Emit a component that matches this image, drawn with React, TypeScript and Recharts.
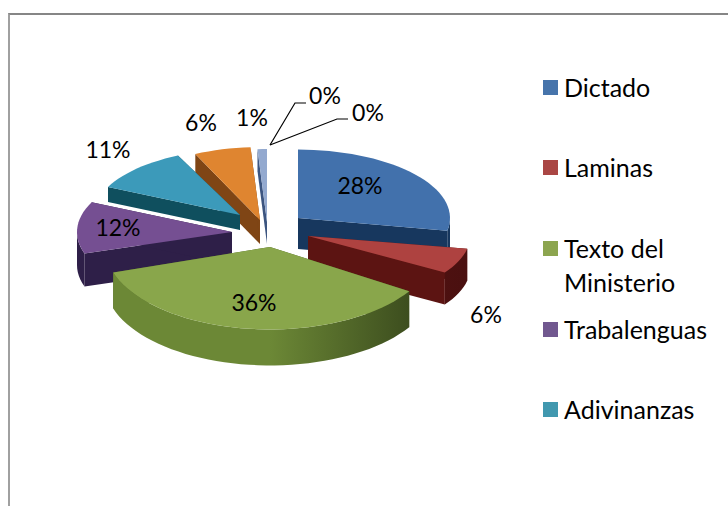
import { PieChart, Pie, Legend } from 'recharts';

const categories = ['Dictado', 'Laminas', 'Texto del Ministerio', 'Trabalenguas', 'Adivinanzas'];
const values = [28, 6, 36, 12, 11, 6, 1, 0, 0];

const legendColors = ['#4674AB', '#AA4644', '#8CA54F', '#71588F', '#4198AF'];
const topColors = ['#4271AC', '#AE4240', '#89A64B', '#754F92', '#3C9ABA', '#DF8530', '#93A9CF', '#BD8C8A', '#AEC189'];
const wallColors = ['#17375E', '#5C1412', '#4A5F26', '#2E1F48', '#0F4F5E', '#7F4515', '#3C5580', '#6B3A38', '#5E7238'];
const arcEdgeColors = ['#17375E', '#5C1412', '#6C8836', '#2E1F48', '#0F4F5E', '#7F4515', '#3C5580', '#6B3A38', '#5E7238'];
const arcFarColors = ['#17375E', '#4A1010', '#34431A', '#2E1F48', '#0F4F5E', '#7F4515', '#3C5580', '#6B3A38', '#5E7238'];

// each slice is pulled out by its own amount, like the exploded points in the original
const explodeX = [46, 56, 18, -20, -12, 8, 15, 0, 0];
const explodeY = [-12, 6, 17, 2, -15, -10, -8, 0, 0];
const radiusScale = [1, 1.066, 1.085, 1.02, 0.96, 1, 1, 1, 1];
const tilt = [0.45, 0.42, 0.5, 0.45, 0.45, 0.48, 0.48, 0.46, 0.46];
const depth = [31, 32, 36, 33, 15, 24, 22, 0, 0];

// back to front
const drawOrder = [6, 5, 4, 0, 3, 1, 2];

const labelX = [360, 486, 254, 118, 108, 201, 252, 325, 368];
const labelY = [185, 314, 302, 227, 149, 122, 117, 95, 112];
const leaderX = [0, 0, 0, 0, 0, 0, 0, 295, 337];
const leaderY = [0, 0, 0, 0, 0, 0, 0, 103, 119];

const legendY = [87, 167, 248, 329, 409];

const FONT = 'Lato, "Open Sans", sans-serif';
const chartData = values.map((value, i) => ({ name: categories[i] ?? '', value }));

function arcPoints(ax: number, ay: number, rx: number, ry: number, from: number, to: number, dy = 0) {
  const steps = Math.max(2, Math.ceil(Math.abs(to - from) / 3));
  const pts: string[] = [];
  for (let s = 0; s <= steps; s++) {
    const t = ((from + ((to - from) * s) / steps) * Math.PI) / 180;
    pts.push(`${(ax + rx * Math.sin(t)).toFixed(1)},${(ay - ry * Math.cos(t) + dy).toFixed(1)}`);
  }
  return pts;
}

function Slice({ cx, cy, outerRadius, startAngle, endAngle, i }: any) {
  if (values[i] === 0) return null;
  const from = 90 - startAngle;
  const to = 90 - endAngle;
  const ax = cx + explodeX[i];
  const ay = cy + explodeY[i];
  const rx = outerRadius * radiusScale[i];
  const ry = rx * tilt[i];
  const d = depth[i];

  const rim = arcPoints(ax, ay, rx, ry, from, to);
  const first = rim[0];
  const last = rim[rim.length - 1];
  const shift = (p: string) => {
    const [x, y] = p.split(',').map(Number);
    return `${x},${y + d}`;
  };
  const apex = `${ax},${ay}`;
  const arcFrom = Math.max(from, 90);
  const arcTo = Math.min(to, 270);
  const hasArc = arcTo > arcFrom;
  const gradId = `arc-${i}`;

  return (
    <g>
      <defs>
        <linearGradient id={gradId} gradientUnits="userSpaceOnUse" x1={ax - rx} x2={ax + rx} y1={0} y2={0}>
          <stop offset="0%" stopColor={arcEdgeColors[i]} />
          <stop offset="50%" stopColor={arcEdgeColors[i]} />
          <stop offset="100%" stopColor={arcFarColors[i]} />
        </linearGradient>
      </defs>
      <polygon points={[apex, first, shift(first), shift(apex)].join(' ')} fill={wallColors[i]} />
      <polygon points={[apex, last, shift(last), shift(apex)].join(' ')} fill={wallColors[i]} />
      {hasArc && (
        <polygon
          points={[
            ...arcPoints(ax, ay, rx, ry, arcFrom, arcTo),
            ...arcPoints(ax, ay, rx, ry, arcTo, arcFrom, d),
          ].join(' ')}
          fill={`url(#${gradId})`}
        />
      )}
      <polygon points={[apex, ...rim].join(' ')} fill={topColors[i]} />
    </g>
  );
}

function renderLabel(props: any) {
  const i = props.index;
  return (
    <g key={`label-${i}`}>
      {props.value === 0 && (
        <polyline
          points={`270,145 ${leaderX[i]},${leaderY[i]} ${leaderX[i] + 11},${leaderY[i]}`}
          fill="none"
          stroke="#000"
          strokeWidth={1.2}
        />
      )}
      <text
        x={labelX[i]}
        y={labelY[i]}
        textAnchor="middle"
        dominantBaseline="central"
        fontFamily={FONT}
        fontSize={23}
        fill="#000"
      >
        {`${props.value}%`}
      </text>
    </g>
  );
}

function LegendBlock() {
  return (
    <div style={{ position: 'relative', width: 728, height: 506, fontFamily: FONT, fontSize: 25, color: '#000' }}>
      {categories.map((name, i) => (
        <div key={name}>
          <div
            style={{
              position: 'absolute',
              left: 543,
              top: legendY[i] - 7,
              width: 15,
              height: 15,
              background: legendColors[i],
            }}
          />
          <div style={{ position: 'absolute', left: 564, top: legendY[i] - 17, width: 150, lineHeight: '34px' }}>
            {name}
          </div>
        </div>
      ))}
    </div>
  );
}

export default function App() {
  return (
    <div style={{ position: 'absolute', left: 0, top: 0, width: 728, height: 506, background: '#fff', overflow: 'hidden' }}>
      <div
        style={{
          position: 'absolute',
          left: 8,
          top: 13,
          width: 760,
          height: 540,
          borderTop: '2px solid #868686',
          borderLeft: '2px solid #A0A0A0',
        }}
      />
      <div style={{ position: 'absolute', left: 0, top: 0 }}>
        <PieChart width={728} height={506} margin={{ top: 0, right: 0, bottom: 0, left: 0 }}>
          {drawOrder.map((idx) => (
            <Pie
              key={idx}
              data={chartData}
              dataKey="value"
              nameKey="name"
              cx={252}
              cy={230}
              outerRadius={152}
              startAngle={90}
              endAngle={-270}
              stroke="none"
              isAnimationActive={false}
              shape={(p: any) => (p.index === idx ? <Slice {...p} i={idx} /> : <g />)}
            />
          ))}
          <Pie
            data={chartData}
            dataKey="value"
            cx={252}
            cy={230}
            outerRadius={152}
            startAngle={90}
            endAngle={-270}
            stroke="none"
            fill="none"
            isAnimationActive={false}
            shape={() => <g />}
            label={renderLabel}
            labelLine={false}
          />
          <Legend content={() => <LegendBlock />} wrapperStyle={{ left: 0, top: 0, bottom: 'auto', width: 728 }} />
        </PieChart>
      </div>
    </div>
  );
}
